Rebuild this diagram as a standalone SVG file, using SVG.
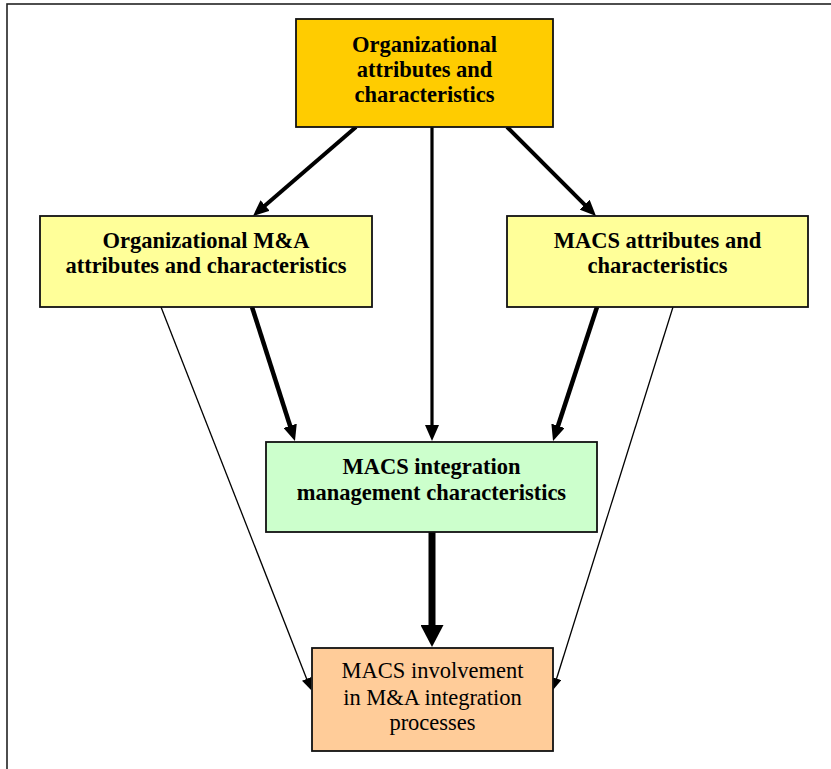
<svg xmlns="http://www.w3.org/2000/svg" width="831" height="769" viewBox="0 0 831 769">
  <style>
    .box { stroke: #111; stroke-width: 1.8; }
    .lbl { font-family: "Liberation Serif", "Times New Roman", serif; font-size: 22.5px; fill: #000; text-anchor: middle; }
    .b { font-weight: bold; }
    .edge { stroke: #000; fill: none; stroke-linecap: butt; }
  </style>
  <defs>
    <marker id="headM" markerUnits="userSpaceOnUse" markerWidth="16" markerHeight="14" refX="2" refY="7" orient="auto">
      <path d="M0,0 L16,7 L0,14 z" fill="#000"/>
    </marker>
    <marker id="headL" markerUnits="userSpaceOnUse" markerWidth="22" markerHeight="23" refX="2" refY="11.5" orient="auto">
      <path d="M0,0 L22,11.5 L0,23 z" fill="#000"/>
    </marker>
    <marker id="headS" markerUnits="userSpaceOnUse" markerWidth="12" markerHeight="10" refX="2" refY="5" orient="auto">
      <path d="M0,0 L12,5 L0,10 z" fill="#000"/>
    </marker>
  </defs>

  <rect width="831" height="769" fill="#fff"/>
  <!-- page frame -->
  <rect x="7" y="4" width="850" height="790" fill="none" stroke="#222" stroke-width="1.6"/>

  <g id="connectors">
    <line class="edge" x1="356" y1="127" x2="263.6" y2="206.8" stroke-width="4" marker-end="url(#headM)"/>
    <line class="edge" x1="432" y1="127" x2="432" y2="427" stroke-width="3.2" marker-end="url(#headM)"/>
    <line class="edge" x1="507" y1="127" x2="586.1" y2="206.1" stroke-width="4" marker-end="url(#headM)"/>
    <line class="edge" x1="252" y1="307" x2="290.7" y2="427.7" stroke-width="4.5" marker-end="url(#headM)"/>
    <line class="edge" x1="597" y1="307" x2="557.4" y2="427.7" stroke-width="4.5" marker-end="url(#headM)"/>
    <line class="edge" x1="432" y1="532" x2="432" y2="627" stroke-width="7" marker-end="url(#headL)"/>
    <line class="edge" x1="161" y1="307" x2="307.4" y2="680.7" stroke-width="1.3" marker-end="url(#headS)"/>
    <line class="edge" x1="673" y1="307" x2="556" y2="680.5" stroke-width="1.3" marker-end="url(#headS)"/>
  </g>

  <g id="org-attributes">
    <rect class="box" x="296" y="19" width="257" height="108" fill="#FFCC00"/>
    <text class="lbl b" x="424.5" y="52">Organizational</text>
    <text class="lbl b" x="424.5" y="77">attributes and</text>
    <text class="lbl b" x="424.5" y="102">characteristics</text>
  </g>

  <g id="org-ma-attributes">
    <rect class="box" x="40" y="216" width="332" height="91" fill="#FFFF99"/>
    <text class="lbl b" x="206" y="248">Organizational M&amp;A</text>
    <text class="lbl b" x="206" y="273">attributes and characteristics</text>
  </g>

  <g id="macs-attributes">
    <rect class="box" x="507" y="216" width="301" height="91" fill="#FFFF99"/>
    <text class="lbl b" x="657.5" y="248">MACS attributes and</text>
    <text class="lbl b" x="657.5" y="273">characteristics</text>
  </g>

  <g id="macs-integration">
    <rect class="box" x="266" y="442" width="331" height="90" fill="#CCFFCC"/>
    <text class="lbl b" x="431.5" y="474">MACS integration</text>
    <text class="lbl b" x="431.5" y="500">management characteristics</text>
  </g>

  <g id="macs-involvement">
    <rect class="box" x="312" y="648" width="241" height="103" fill="#FFCC99"/>
    <text class="lbl" x="432.5" y="678">MACS involvement</text>
    <text class="lbl" x="432.5" y="705">in M&amp;A integration</text>
    <text class="lbl" x="432.5" y="730">processes</text>
  </g>
</svg>
